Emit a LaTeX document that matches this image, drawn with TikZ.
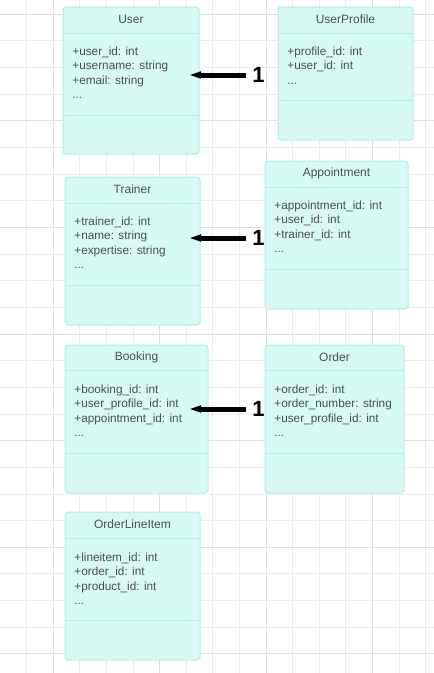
\documentclass[tikz,border=0pt]{standalone}
\usepackage{fontspec}
\setmainfont{Liberation Sans}
\usetikzlibrary{arrows.meta}

\definecolor{clsfill}{RGB}{214,249,243}
\definecolor{clsline}{RGB}{176,239,229}
\definecolor{gridminor}{RGB}{236,236,236}
\definecolor{gridmajor}{RGB}{222,222,222}
\definecolor{txtgray}{RGB}{78,78,78}

\tikzset{every picture/.style={line width=0.75pt}}
\tikzset{
	classbox/.style={draw=clsline, fill=clsfill, rounded corners=3pt, line width=1pt},
	classsep/.style={draw=clsline, line width=1pt},
	classtitle/.style={inner sep=0pt, text=txtgray, font=\fontsize{12}{14}\selectfont},
	classattr/.style={anchor=west, inner sep=0pt, text height=9.5pt, text depth=1.5pt, text=txtgray, font=\fontsize{11.8}{14}\selectfont},
	onelabel/.style={anchor=west, inner sep=0pt, font=\fontsize{22}{22}\selectfont\bfseries},
	onearrow/.style={line width=5pt, shorten <=6pt, -{Triangle[length=12pt,width=6.5pt]}}
}

\begin{document}
\begin{tikzpicture}[x=1pt,y=1pt,yscale=-1,xscale=1]
	\useasboundingbox (0,0) rectangle (434,673);
	
	%Background grid
	\foreach \k in {1,...,16} {
		\pgfmathsetmacro{\gx}{26.6*\k}
		\pgfmathtruncatemacro{\gm}{mod(\k,4)}
		\ifnum\gm=2 \def\gc{gridmajor}\else\def\gc{gridminor}\fi
		\draw [\gc, line width=1pt] (\gx,0) -- (\gx,673);
	}
	\foreach \k in {0,...,24} {
		\pgfmathsetmacro{\gy}{14.3+26.65*\k}
		\pgfmathtruncatemacro{\gm}{mod(\k,4)}
		\ifnum\gm=0 \def\gc{gridmajor}\else\def\gc{gridminor}\fi
		\draw [\gc, line width=1pt] (0,\gy) -- (434,\gy);
	}
	
	%Class: User
	\draw [classbox] (63,7) rectangle (199,154);
	\draw [classsep] (63,33) -- (199,33) (63,115) -- (199,115);
	\node [classtitle] (usertitle) at (131,19) {User};
	\node [classattr] (useratt1) at (72,51) {+user\_id: int};
	\node [classattr] (useratt2) at (72,65) {+username: string};
	\node [classattr] (useratt3) at (72,80) {+email: string};
	\node [classattr] (useratt4) at (72,94) {...};
	
	%Class: UserProfile
	\draw [classbox] (278,7) rectangle (413,140);
	\draw [classsep] (278,33) -- (413,33) (278,100) -- (413,100);
	\node [classtitle] (proftitle) at (345.5,19) {UserProfile};
	\node [classattr] (profatt1) at (287,51) {+profile\_id: int};
	\node [classattr] (profatt2) at (287,65) {+user\_id: int};
	\node [classattr] (profatt3) at (287,80) {...};
	
	%Class: Trainer
	\draw [classbox] (65,177) rectangle (200,325);
	\draw [classsep] (65,203) -- (200,203) (65,285) -- (200,285);
	\node [classtitle] (trainertitle) at (132.5,189) {Trainer};
	\node [classattr] (traineratt1) at (74,221) {+trainer\_id: int};
	\node [classattr] (traineratt2) at (74,235) {+name: string};
	\node [classattr] (traineratt3) at (74,250) {+expertise: string};
	\node [classattr] (traineratt4) at (74,264) {...};
	
	%Class: Appointment
	\draw [classbox] (265,161) rectangle (408,309);
	\draw [classsep] (265,187) -- (408,187) (265,269) -- (408,269);
	\node [classtitle] (appttitle) at (336.5,173) {Appointment};
	\node [classattr] (apptatt1) at (274,205) {+appointment\_id: int};
	\node [classattr] (apptatt2) at (274,219) {+user\_id: int};
	\node [classattr] (apptatt3) at (274,234) {+trainer\_id: int};
	\node [classattr] (apptatt4) at (274,248) {...};
	
	%Class: Booking
	\draw [classbox] (65,345) rectangle (208,493);
	\draw [classsep] (65,370) -- (208,370) (65,453) -- (208,453);
	\node [classtitle] (bookingtitle) at (136.5,357) {Booking};
	\node [classattr] (bookingatt1) at (74,389) {+booking\_id: int};
	\node [classattr] (bookingatt2) at (74,403) {+user\_profile\_id: int};
	\node [classattr] (bookingatt3) at (74,418) {+appointment\_id: int};
	\node [classattr] (bookingatt4) at (74,432) {...};
	
	%Class: Order
	\draw [classbox] (265,345) rectangle (404,493);
	\draw [classsep] (265,370) -- (404,370) (265,453) -- (404,453);
	\node [classtitle] (ordertitle) at (334.5,357) {Order};
	\node [classattr] (orderatt1) at (274,389) {+order\_id: int};
	\node [classattr] (orderatt2) at (274,403) {+order\_number: string};
	\node [classattr] (orderatt3) at (274,418) {+user\_profile\_id: int};
	\node [classattr] (orderatt4) at (274,432) {...};
	
	%Class: OrderLineItem
	\draw [classbox] (65,512) rectangle (200,660);
	\draw [classsep] (65,538) -- (200,538) (65,620) -- (200,620);
	\node [classtitle] (itemtitle) at (132.5,524) {OrderLineItem};
	\node [classattr] (itematt1) at (74,557) {+lineitem\_id: int};
	\node [classattr] (itematt2) at (74,571) {+order\_id: int};
	\node [classattr] (itematt3) at (74,586) {+product\_id: int};
	\node [classattr] (itematt4) at (74,600) {...};
	
	%Multiplicity arrows
	\node [onelabel] (oneuser) at (252,75) {1};
	\coordinate (tipuser) at (189,75);
	\draw [onearrow] (oneuser.west) -- (tipuser);
	
	\node [onelabel] (onetrainer) at (252,238) {1};
	\coordinate (tiptrainer) at (189,238);
	\draw [onearrow] (onetrainer.west) -- (tiptrainer);
	
	\node [onelabel] (onebooking) at (252,409) {1};
	\coordinate (tipbooking) at (189,409);
	\draw [onearrow] (onebooking.west) -- (tipbooking);
	
\end{tikzpicture}
\end{document}
